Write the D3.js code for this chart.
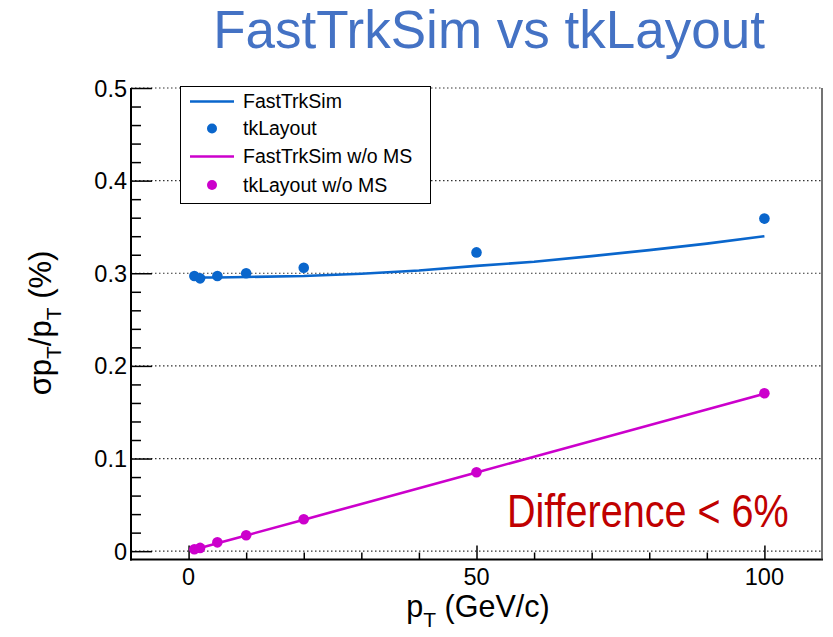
<!DOCTYPE html>
<html>
<head>
<meta charset="utf-8">
<script src="https://cdn.jsdelivr.net/npm/d3@7"></script>
<style>
  html, body { margin: 0; padding: 0; background: #fff; }
  svg { display: block; font-family: "Liberation Sans", Arial, Helvetica, sans-serif; }
</style>
</head>
<body>
<svg id="chart" width="833" height="637"></svg>
<script>
// Transverse momentum (GeV/c) of the simulated tracks
const ptPoints = [1, 2, 5, 10, 20, 50, 100];
// tkLayout resolution (%)
const tkLayout = [0.297, 0.2945, 0.297, 0.300, 0.306, 0.3225, 0.359];
// tkLayout without multiple scattering (%)
const tkLayoutNoMS = [0.0020, 0.0035, 0.0095, 0.0172, 0.0345, 0.0852, 0.1705];

// FastTrkSim curves
const ptCurve = [1, 2, 5, 10, 20, 30, 40, 50, 60, 70, 80, 90, 100];
const fastTrkSim = [0.2955, 0.2955, 0.2955, 0.296, 0.297, 0.2995, 0.303, 0.308, 0.3125, 0.3185, 0.325, 0.332, 0.340];
const fastTrkSimNoMS = [0.0017, 0.0034, 0.0085, 0.0170, 0.0340, 0.0510, 0.0680, 0.0850, 0.1020, 0.1190, 0.1360, 0.1530, 0.1700];

// Axis ticks
const yTicks = [0, 0.1, 0.2, 0.3, 0.4, 0.5];
const yTickLabels = ["0", "0.1", "0.2", "0.3", "0.4", "0.5"];
const xTicks = [0, 50, 100];
const xTickLabels = ["0", "50", "100"];

const legendLabels = ["FastTrkSim", "tkLayout", "FastTrkSim w/o MS", "tkLayout w/o MS"];

const BLUE = "#0a66cc";
const MAGENTA = "#cc00cc";

const svg = d3.select("#chart");
const frame = { left: 131, right: 822, top: 88, bottom: 559.5 };

const x = d3.scaleLinear().domain([-10, 110]).range([frame.left, frame.right]);
const y = d3.scaleLinear().domain([-0.009, 0.5]).range([frame.bottom, frame.top]);

// Title
svg.append("text")
  .attr("x", 489).attr("y", 48)
  .attr("text-anchor", "middle")
  .attr("font-size", 53)
  .attr("fill", "#4472c4")
  .text("FastTrkSim vs tkLayout");

// Horizontal dotted grid
svg.append("g").selectAll("line").data(yTicks).join("line")
  .attr("x1", frame.left).attr("x2", frame.right)
  .attr("y1", d => y(d)).attr("y2", d => y(d))
  .attr("stroke", "#333").attr("stroke-width", 1.2)
  .attr("stroke-dasharray", "1.5,2.5");

// Minor ticks
const yMinor = d3.range(0, 0.5001, 0.02).filter(v => Math.abs(Math.round(v * 10) - v * 10) > 1e-6);
const xMinor = d3.range(0, 100.001, 10).filter(v => v % 50 !== 0);

// Y axis
const yAxis = svg.append("g").attr("transform", `translate(${frame.left},0)`);
yAxis.call(d3.axisRight(y).tickValues(yTicks).tickSize(21).tickFormat(""));
yAxis.append("g").call(d3.axisRight(y).tickValues(yMinor).tickSize(10).tickFormat(""));
yAxis.selectAll(".domain").remove();
yAxis.selectAll("line").attr("stroke", "#000").attr("stroke-width", 1.5);
svg.append("g").selectAll("text").data(yTicks).join("text")
  .attr("x", frame.left - 4).attr("y", d => y(d) + 8.5)
  .attr("text-anchor", "end")
  .attr("font-size", 23.5)
  .attr("fill", "#000")
  .text((d, i) => yTickLabels[i]);

// X axis
const xAxis = svg.append("g").attr("transform", `translate(0,${frame.bottom})`);
xAxis.call(d3.axisTop(x).tickValues(xTicks).tickSize(14).tickFormat(""));
xAxis.append("g").call(d3.axisTop(x).tickValues(xMinor).tickSize(7).tickFormat(""));
xAxis.selectAll(".domain").remove();
xAxis.selectAll("line").attr("stroke", "#000").attr("stroke-width", 1.5);
svg.append("g").selectAll("text").data(xTicks).join("text")
  .attr("x", d => x(d)).attr("y", frame.bottom + 25)
  .attr("text-anchor", "middle")
  .attr("font-size", 23.5)
  .attr("fill", "#000")
  .text((d, i) => xTickLabels[i]);

// Frame
svg.append("line").attr("x1", frame.left).attr("x2", frame.left)
  .attr("y1", frame.top).attr("y2", frame.bottom + 1)
  .attr("stroke", "#000").attr("stroke-width", 2);
svg.append("line").attr("x1", frame.left - 1).attr("x2", frame.right + 1)
  .attr("y1", frame.bottom).attr("y2", frame.bottom)
  .attr("stroke", "#000").attr("stroke-width", 2.2);
svg.append("line").attr("x1", frame.right).attr("x2", frame.right)
  .attr("y1", frame.top).attr("y2", frame.bottom)
  .attr("stroke", "#444").attr("stroke-width", 1.5);

// Series
const line = d3.line().x(d => x(d[0])).y(d => y(d[1]));
svg.append("path").datum(d3.zip(ptCurve, fastTrkSim))
  .attr("d", line).attr("fill", "none")
  .attr("stroke", BLUE).attr("stroke-width", 2.6);
svg.append("path").datum(d3.zip(ptCurve, fastTrkSimNoMS))
  .attr("d", line).attr("fill", "none")
  .attr("stroke", MAGENTA).attr("stroke-width", 2.6);

svg.append("g").selectAll("circle").data(d3.zip(ptPoints, tkLayout)).join("circle")
  .attr("cx", d => x(d[0])).attr("cy", d => y(d[1])).attr("r", 5.3)
  .attr("fill", BLUE);
svg.append("g").selectAll("circle").data(d3.zip(ptPoints, tkLayoutNoMS)).join("circle")
  .attr("cx", d => x(d[0])).attr("cy", d => y(d[1])).attr("r", 5.3)
  .attr("fill", MAGENTA);

// Legend
const lg = svg.append("g");
lg.append("rect").attr("x", 180.5).attr("y", 86.5).attr("width", 250).attr("height", 117)
  .attr("fill", "#fff").attr("stroke", "#000").attr("stroke-width", 1);
const rowY = [101.5, 128.5, 156.5, 185];
const kinds = ["line", "dot", "line", "dot"];
const colors = [BLUE, BLUE, MAGENTA, MAGENTA];
legendLabels.forEach((lab, i) => {
  if (kinds[i] === "line") {
    lg.append("line").attr("x1", 190).attr("x2", 234)
      .attr("y1", rowY[i]).attr("y2", rowY[i])
      .attr("stroke", colors[i]).attr("stroke-width", 2.4);
  } else {
    lg.append("circle").attr("cx", 212).attr("cy", rowY[i]).attr("r", 5).attr("fill", colors[i]);
  }
  lg.append("text").attr("x", 243).attr("y", rowY[i] + 6.5)
    .attr("font-size", 19.5).text(lab);
});

// Annotation, horizontally condensed
svg.append("text")
  .attr("transform", "translate(507,527) scale(0.86,1)")
  .attr("font-size", 46)
  .attr("fill", "#c00000")
  .text("Difference < 6%");

// Axis titles
const xt = svg.append("text").attr("x", 478).attr("y", 617)
  .attr("text-anchor", "middle").attr("font-size", 30.5);
xt.append("tspan").text("p");
xt.append("tspan").attr("dy", 10).attr("font-size", 21).text("T");
xt.append("tspan").attr("dy", -10).text(" (GeV/c)");

const yt = svg.append("text")
  .attr("transform", "translate(51,323) rotate(-90)")
  .attr("text-anchor", "middle").attr("font-size", 31);
yt.append("tspan").text("σp");
yt.append("tspan").attr("dy", 10).attr("font-size", 21).text("T");
yt.append("tspan").attr("dy", -10).text("/p");
yt.append("tspan").attr("dy", 10).attr("font-size", 21).text("T");
yt.append("tspan").attr("dy", -10).text(" (%)");
</script>
</body>
</html>
